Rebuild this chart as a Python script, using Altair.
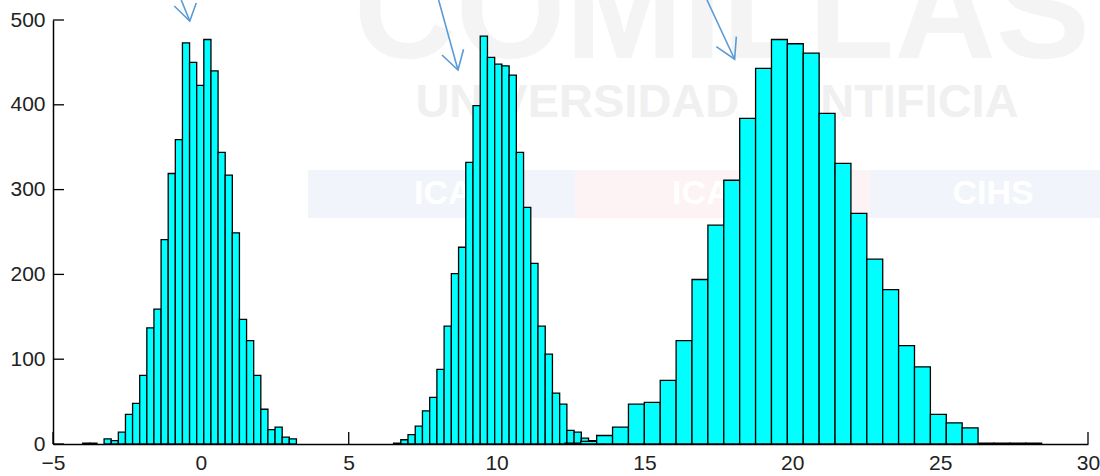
import altair as alt
import pandas as pd

# ---------------- data ----------------
# histogram 1 (centred at 0)
h1_start = -3.995
h1_width = 0.2409
h1_counts = [1, 1, 0, 6, 4, 14, 35, 48, 81, 137, 159, 241, 319, 359, 473,
             450, 423, 477, 440, 344, 317, 249, 147, 122, 81, 41, 17, 20, 8, 6]

# histogram 2 (centred at 10)
h2_start = 6.517
h2_width = 0.2442
h2_counts = [1, 5, 11, 21, 39, 55, 88, 139, 201, 232, 332, 399, 481, 456,
             448, 446, 435, 344, 279, 213, 139, 106, 60, 47, 16, 14, 7, 4]

# histogram 3 (centred at 20)
h3_start = 12.31
h3_width = 0.5374
h3_counts = [1, 3, 10, 20, 47, 49, 75, 122, 194, 258, 311, 384, 443, 477,
             472, 461, 390, 331, 272, 218, 182, 116, 91, 35, 25, 19, 1, 1, 1, 1]

x_ticks = [-5, 0, 5, 10, 15, 20, 25, 30]
y_ticks = [0, 100, 200, 300, 400, 500]

# hand-drawn annotation arrows (data units)
arrow_names = ["a1", "a2", "a3"]
arrow_tail_x = [-0.663, 8.04, 17.115]
arrow_tail_y = [523.6, 523.6, 523.6]
arrow_tip_x = [-0.375, 8.695, 18.05]
arrow_tip_y = [498.8, 441.0, 453.7]

# ---------------- build tables ----------------
rows = []
for start, width, counts in [(h1_start, h1_width, h1_counts),
                             (h2_start, h2_width, h2_counts),
                             (h3_start, h3_width, h3_counts)]:
    for i, c in enumerate(counts):
        if c > 0:
            rows.append({"x0": start + i * width, "x1": start + (i + 1) * width,
                         "count": c, "zero": 0})
bars_df = pd.DataFrame(rows)

arrows_df = pd.DataFrame({"name": arrow_names, "tx": arrow_tail_x, "ty": arrow_tail_y,
                          "hx": arrow_tip_x, "hy": arrow_tip_y})
xt_df = pd.DataFrame({"t": x_ticks})
yt_df = pd.DataFrame({"t": y_ticks})

W, H = 1035, 424
FONT = "Liberation Sans"

xscale = alt.Scale(domain=[-5, 30], nice=False, zero=False)
yscale = alt.Scale(domain=[0, 500], nice=False)

# ---------------- watermark (faint background) ----------------
one = pd.DataFrame({"k": [0]})
band_blue1 = alt.Chart(one).mark_rect(color="#f1f4fb").encode(
    x=alt.value(255), x2=alt.value(522), y=alt.value(150), y2=alt.value(198))
band_pink = alt.Chart(one).mark_rect(color="#fdf2f4").encode(
    x=alt.value(522), x2=alt.value(817), y=alt.value(150), y2=alt.value(198))
band_blue2 = alt.Chart(one).mark_rect(color="#f1f4fb").encode(
    x=alt.value(817), x2=alt.value(1047), y=alt.value(150), y2=alt.value(198))
wm_big = alt.Chart(one).mark_text(text="COMILLAS", font=FONT, fontWeight="bold",
                                  fontSize=141, color="#f4f4f4", baseline="alphabetic",
                                  align="center").encode(x=alt.value(669), y=alt.value(38))
wm_mid = alt.Chart(one).mark_text(text="UNIVERSIDAD PONTIFICIA", font=FONT, fontWeight="bold",
                                  fontSize=47, color="#f0f0f0", baseline="alphabetic",
                                  align="center").encode(x=alt.value(664), y=alt.value(97))
wm_t1 = alt.Chart(one).mark_text(text="ICAI", font=FONT, fontWeight="bold", fontSize=34,
                                 color="#ffffff", baseline="middle", align="center").encode(
    x=alt.value(395), y=alt.value(174))
wm_t2 = alt.Chart(one).mark_text(text="ICADE", font=FONT, fontWeight="bold", fontSize=34,
                                 color="#ffffff", baseline="middle", align="center").encode(
    x=alt.value(672), y=alt.value(174))
wm_t3 = alt.Chart(one).mark_text(text="CIHS", font=FONT, fontWeight="bold", fontSize=34,
                                 color="#ffffff", baseline="middle", align="center").encode(
    x=alt.value(940), y=alt.value(174))

# ---------------- inward ticks ----------------
xticks = alt.Chart(xt_df).mark_rule(color="black", strokeWidth=1.3).encode(
    x=alt.X("t:Q", scale=xscale), y=alt.value(H), y2=alt.value(H - 12))
yticks = alt.Chart(yt_df).mark_rule(color="black", strokeWidth=1.3).encode(
    y=alt.Y("t:Q", scale=yscale), x=alt.value(0), x2=alt.value(11))

# ---------------- bars ----------------
bars = alt.Chart(bars_df).mark_rect(fill="#00FFFF", stroke="black", strokeWidth=1.3).encode(
    x=alt.X("x0:Q", scale=xscale, title=None,
            axis=alt.Axis(values=x_ticks, ticks=False, grid=False, domainColor="black",
                          domainWidth=1.5, labelFont=FONT, labelFontSize=21,
                          labelColor="#222222", labelPadding=8, labelFlush=False,
                          labelOverlap=False, format="d")),
    x2="x1:Q",
    y=alt.Y("count:Q", scale=yscale, title=None,
            axis=alt.Axis(values=y_ticks, ticks=False, grid=False, domainColor="black",
                          domainWidth=1.5, labelFont=FONT, labelFontSize=21,
                          labelColor="#222222", labelPadding=8, labelOverlap=False,
                          format="d")),
    y2="zero:Q",
)

# ---------------- arrows ----------------
shafts = alt.Chart(arrows_df).mark_rule(color="#5b9bd5", strokeWidth=1.6).encode(
    x=alt.X("tx:Q", scale=xscale), y=alt.Y("ty:Q", scale=yscale),
    x2="hx:Q", y2="hy:Q")
heads = alt.Chart(arrows_df).mark_point(filled=False, color="#5b9bd5", strokeWidth=1.6,
                                        opacity=1, size=4).encode(
    x=alt.X("hx:Q", scale=xscale), y=alt.Y("hy:Q", scale=yscale),
    shape=alt.Shape("name:N", legend=None,
                    scale=alt.Scale(domain=arrow_names,
                                    range=["M -15.5 -15 L 0 0 L 6.5 -18",
                                           "M -16 -15 L 0 0 L 5.6 -20.7",
                                           "M -18.3 -12.6 L 0 0 L 1.7 -22.6"])))

chart = alt.layer(
    band_blue1, band_pink, band_blue2, wm_big, wm_mid, wm_t1, wm_t2, wm_t3,
    xticks, yticks, bars, shafts, heads
).properties(
    width=W, height=H,
    autosize=alt.AutoSizeParams(type="none"),
    padding={"left": 53, "top": 20, "right": 12, "bottom": 32},
    background="white",
).configure_view(stroke=None)

chart.save("out.html", embed_options={"renderer": "svg", "actions": False})
